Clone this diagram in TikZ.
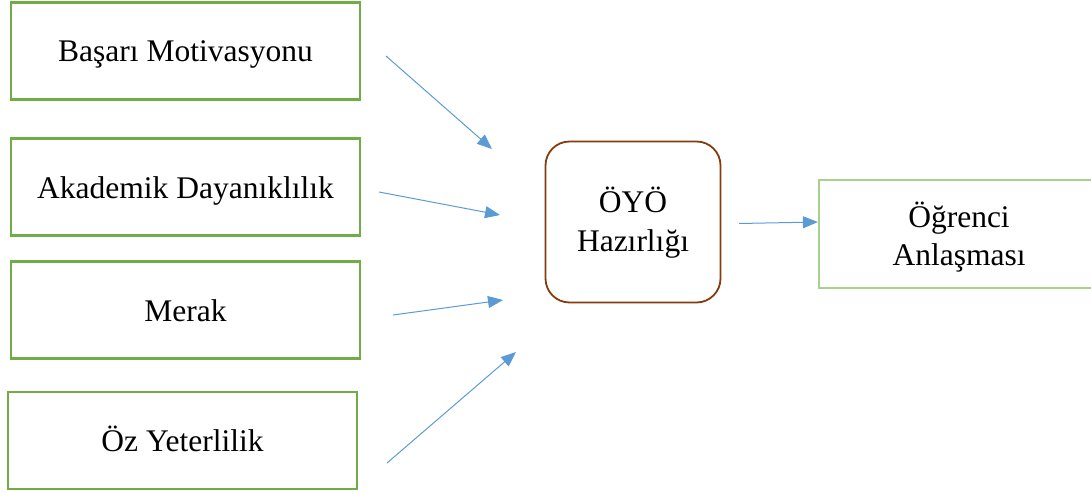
\documentclass[tikz,border=0pt]{standalone}
\usepackage{fontspec}
\setmainfont{Liberation Serif}
\usetikzlibrary{arrows.meta}
\definecolor{boxgreen}{HTML}{70AD47}
\definecolor{lightgreen}{HTML}{A9D18E}
\definecolor{brownbox}{HTML}{843C0C}
\definecolor{arrowblue}{HTML}{5B9BD5}
\newcommand{\twolines}[3]{\raisebox{#1}[\height][\depth]{\begin{tabular}{@{}c@{}}#2\\#3\end{tabular}}}
\begin{document}
\begin{tikzpicture}[x=1pt,y=-1pt,
  txt/.style={font=\fontsize{31.5}{39}\selectfont, align=center, inner sep=0pt},
  leftbox/.style={draw=boxgreen, line width=2.6pt, minimum width=349pt, minimum height=97pt, txt, text height=22pt, text depth=0pt},
  midbox/.style={draw=brownbox, line width=1.8pt, rounded corners=24pt, minimum width=175pt, minimum height=161pt, txt},
  rightbox/.style={draw=lightgreen, line width=2.2pt, minimum width=280pt, minimum height=108pt, txt, font=\fontsize{31.5}{38}\selectfont},
  conn/.style={draw=arrowblue, line width=1pt, -{Triangle[length=15pt,width=12pt]}}
]
\useasboundingbox (0,0) rectangle (1091,492);
\begin{scope}
\clip (0,0) rectangle (1091,492);
\node[leftbox] (b1) at (185.5,51) {Başarı Motivasyonu};
\node[leftbox] (b2) at (185.5,187) {Akademik Dayanıklılık};
\node[leftbox] (b3) at (185.5,310) {Merak};
\node[leftbox] (b4) at (182.5,440.5) {Öz Yeterlilik};
\node[midbox] (m) at (633,222) {\twolines{-1.7pt}{ÖYÖ}{Hazırlığı}};
\node[rightbox] (r) at (959,234) {\twolines{-4.4pt}{Öğrenci}{Anlaşması}};
\end{scope}
\coordinate (s1) at (386,56);  \coordinate (e1) at (492,149);
\coordinate (s2) at (379,192); \coordinate (e2) at (500,215);
\coordinate (s3) at (393,315); \coordinate (e3) at (503,300);
\coordinate (s4) at (387,463); \coordinate (e4) at (516,352);
\coordinate (s5) at (739,223.5);
\draw[conn] (s1) -- (e1);
\draw[conn] (s2) -- (e2);
\draw[conn] (s3) -- (e3);
\draw[conn] (s4) -- (e4);
\draw[conn] (s5) -- ([yshift=12pt]r.west);
\end{tikzpicture}
\end{document}
